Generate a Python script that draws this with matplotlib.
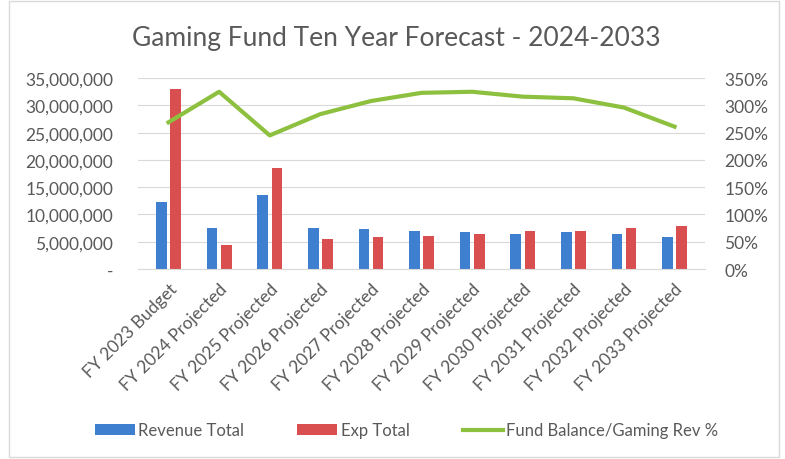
import numpy as np
import matplotlib.pyplot as plt
from matplotlib.ticker import FuncFormatter

categories = ["FY 2023 Budget", "FY 2024 Projected", "FY 2025 Projected", "FY 2026 Projected",
              "FY 2027 Projected", "FY 2028 Projected", "FY 2029 Projected", "FY 2030 Projected",
              "FY 2031 Projected", "FY 2032 Projected", "FY 2033 Projected"]
revenue = [12.3e6, 7.5e6, 13.5e6, 7.5e6, 7.3e6, 7.0e6, 6.7e6, 6.5e6, 6.7e6, 6.5e6, 5.9e6]
expense = [33.0e6, 4.4e6, 18.5e6, 5.5e6, 5.9e6, 6.1e6, 6.5e6, 6.9e6, 6.9e6, 7.5e6, 7.8e6]
balance_pct = [269, 325, 245, 284, 308, 323, 325, 316, 313, 296, 261]

plt.rcParams['font.family'] = ['Lato', 'DejaVu Sans']
grey = "#595959"

fig = plt.figure(figsize=(7.85, 4.6), dpi=100)
ax = fig.add_axes([0.176, 0.413, 0.722, 0.415])
x = np.arange(len(categories))
w = 0.21
ax.bar(x - 0.14, revenue, w, color="#3F7FCF", label="Revenue Total", zorder=2)
ax.bar(x + 0.14, expense, w, color="#D94F4F", label="Exp Total", zorder=2)
ax.set_xlim(-0.6, len(categories) - 0.4)
ax.set_ylim(0, 35e6)
ax.set_yticks(np.arange(0, 35e6 + 1, 5e6))
ax.yaxis.set_major_formatter(FuncFormatter(lambda v, p: "-" if v == 0 else f"{v:,.0f}"))
ax.grid(axis="y", color="#D9D9D9", linewidth=0.8, zorder=0)
ax.set_axisbelow(True)
for s in ax.spines.values():
    s.set_visible(False)
ax.spines["bottom"].set_visible(True)
ax.spines["bottom"].set_color("#D9D9D9")
ax.tick_params(axis="y", length=0, labelsize=12.5, colors=grey, pad=18)
ax.tick_params(axis="x", length=0, labelsize=12.5, colors=grey, pad=8)
ax.set_xticks(x)
ax.set_xticklabels(categories, rotation=45, ha="right", rotation_mode="anchor")

ax2 = ax.twinx()
ax2.plot(x, balance_pct, color="#8DC03F", linewidth=3, label="Fund Balance/Gaming Rev %", zorder=3)
ax2.set_ylim(0, 350)
ax2.set_yticks(np.arange(0, 351, 50))
ax2.yaxis.set_major_formatter(FuncFormatter(lambda v, p: f"{v:.0f}%"))
for s in ax2.spines.values():
    s.set_visible(False)
ax2.tick_params(length=0, labelsize=12.5, colors=grey, pad=14)

fig.text(0.505, 0.917, "Gaming Fund Ten Year Forecast - 2024-2033", ha="center", va="center",
         fontsize=19, color=grey)

h1, l1 = ax.get_legend_handles_labels()
h2, l2 = ax2.get_legend_handles_labels()
fig.legend(h1 + h2, l1 + l2, loc="center", bbox_to_anchor=(0.518, 0.062), ncol=3, frameon=False,
           fontsize=12, labelcolor=grey, handlelength=2.4, handletextpad=0.2, columnspacing=3.2)

fig.patches.append(plt.Rectangle((0.012, 0.005), 0.98, 0.99, transform=fig.transFigure,
                                 fill=False, edgecolor="#D9D9D9", linewidth=1))
fig.savefig("out.png", dpi=100)
